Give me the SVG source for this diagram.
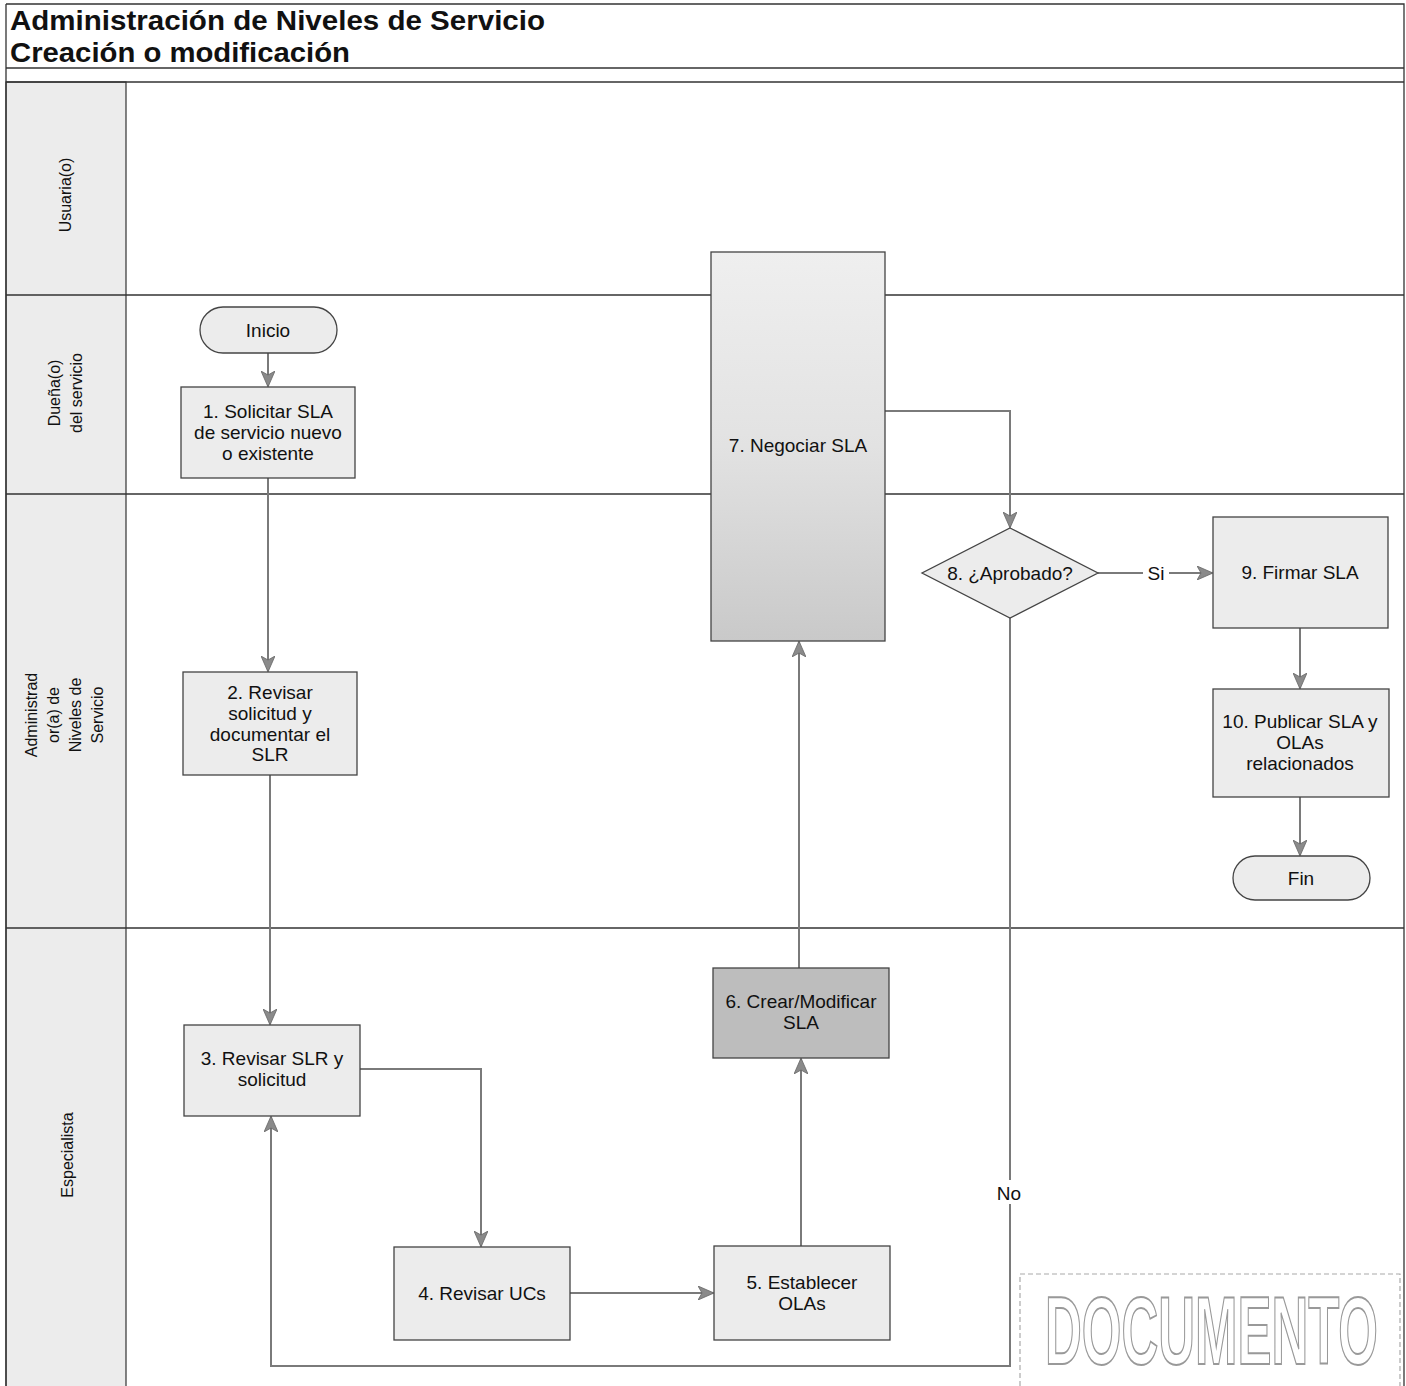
<svg xmlns="http://www.w3.org/2000/svg" width="1406" height="1386" viewBox="0 0 1406 1386">
<style>
.frame{fill:none;stroke:#333;stroke-width:1.3}
.lane{stroke:#333;stroke-width:1.3;fill:none}
.lbl{fill:#ececec;stroke:#333;stroke-width:1.2}
.node{fill:#ececec;stroke:#444;stroke-width:1.3}
.dark{fill:#bdbdbd;stroke:#444;stroke-width:1.3}
.t{font-family:"Liberation Sans",Arial,sans-serif;font-size:19px;fill:#111;text-anchor:middle}
.lt{font-family:"Liberation Sans",Arial,sans-serif;font-size:16px;fill:#111;text-anchor:middle}
.title{font-family:"Liberation Sans",Arial,sans-serif;font-size:28px;font-weight:bold;fill:#111}
.c{fill:none;stroke:#7a7a7a;stroke-width:2}
</style>
<defs>
<marker id="ah" markerUnits="userSpaceOnUse" markerWidth="16" markerHeight="14" refX="15" refY="7" orient="auto">
<path d="M0,0 L16,7 L0,14 L4,7 Z" fill="#8a8a8a" stroke="#666" stroke-width="0.8"/>
</marker>
<linearGradient id="g7" x1="0" y1="0" x2="0" y2="1">
<stop offset="0" stop-color="#efefef"/>
<stop offset="0.5" stop-color="#e2e2e2"/>
<stop offset="1" stop-color="#c9c9c9"/>
</linearGradient>
</defs>
<rect width="1406" height="1386" fill="#fff"/>
<g id="frame">
<rect class="lbl" x="6" y="82" width="120" height="1310"/>
<path class="frame" d="M6,4 H1404 V1392 M6,4 V1392"/>
<line class="lane" x1="6" y1="68" x2="1404" y2="68"/>
<line class="lane" x1="6" y1="82" x2="1404" y2="82"/>
<line class="lane" x1="6" y1="295" x2="1404" y2="295"/>
<line class="lane" x1="6" y1="494" x2="1404" y2="494"/>
<line class="lane" x1="6" y1="928" x2="1404" y2="928"/>
<text class="title" x="10" y="30" textLength="535" lengthAdjust="spacingAndGlyphs">Administración de Niveles de Servicio</text>
<text class="title" x="10" y="62" textLength="340" lengthAdjust="spacingAndGlyphs">Creación o modificación</text>
</g>
<g id="lane-labels">
<text class="lt" transform="translate(71,195) rotate(-90)">Usuaria(o)</text>
<text class="lt" transform="translate(60,393) rotate(-90)">Dueña(o)</text>
<text class="lt" transform="translate(82,393) rotate(-90)">del servicio</text>
<text class="lt" transform="translate(37,715) rotate(-90)">Administrad</text>
<text class="lt" transform="translate(59,715) rotate(-90)">or(a) de</text>
<text class="lt" transform="translate(81,715) rotate(-90)">Niveles de</text>
<text class="lt" transform="translate(103,715) rotate(-90)">Servicio</text>
<text class="lt" transform="translate(73,1155) rotate(-90)">Especialista</text>
</g>
<g id="connectors">
<path class="c" d="M268,353 V386" marker-end="url(#ah)"/>
<path class="c" d="M268,478 V671" marker-end="url(#ah)"/>
<path class="c" d="M270,775 V1024" marker-end="url(#ah)"/>
<path class="c" d="M360,1069 H481 V1246" marker-end="url(#ah)"/>
<path class="c" d="M570,1293 H713" marker-end="url(#ah)"/>
<path class="c" d="M801,1246 V1059" marker-end="url(#ah)"/>
<path class="c" d="M799,968 V642" marker-end="url(#ah)"/>
<path class="c" d="M885,411 H1010 V527" marker-end="url(#ah)"/>
<path class="c" d="M1098,573 H1143 M1169,573 H1212" marker-end="url(#ah)"/>
<path class="c" d="M1010,618 V1366 H271 V1117" marker-end="url(#ah)"/>
<path class="c" d="M1300,628 V688" marker-end="url(#ah)"/>
<path class="c" d="M1300,797 V855" marker-end="url(#ah)"/>
<text class="t" x="1156" y="580">Si</text>
<rect x="990" y="1180" width="40" height="24" fill="#fff"/>
<text class="t" x="1009" y="1200">No</text>
</g>
<g id="inicio">
<rect class="node" x="200" y="307" width="137" height="46" rx="23"/>
<text class="t" x="268" y="337">Inicio</text>
</g>
<g id="n1">
<rect class="node" x="181" y="387" width="174" height="91"/>
<text class="t" x="268" y="418">1. Solicitar SLA</text>
<text class="t" x="268" y="439">de servicio nuevo</text>
<text class="t" x="268" y="460">o existente</text>
</g>
<g id="n2">
<rect class="node" x="183" y="672" width="174" height="103"/>
<text class="t" x="270" y="699">2. Revisar</text>
<text class="t" x="270" y="720">solicitud y</text>
<text class="t" x="270" y="741">documentar el</text>
<text class="t" x="270" y="761">SLR</text>
</g>
<g id="n3">
<rect class="node" x="184" y="1025" width="176" height="91"/>
<text class="t" x="272" y="1065">3. Revisar SLR y</text>
<text class="t" x="272" y="1086">solicitud</text>
</g>
<g id="n4">
<rect class="node" x="394" y="1247" width="176" height="93"/>
<text class="t" x="482" y="1300">4. Revisar UCs</text>
</g>
<g id="n5">
<rect class="node" x="714" y="1246" width="176" height="94"/>
<text class="t" x="802" y="1289">5. Establecer</text>
<text class="t" x="802" y="1310">OLAs</text>
</g>
<g id="n6">
<rect class="dark" x="713" y="968" width="176" height="90"/>
<text class="t" x="801" y="1008">6. Crear/Modificar</text>
<text class="t" x="801" y="1029">SLA</text>
</g>
<g id="n7">
<rect x="711" y="252" width="174" height="389" fill="url(#g7)" stroke="#444" stroke-width="1.3"/>
<text class="t" x="798" y="452">7. Negociar SLA</text>
</g>
<g id="n8">
<polygon class="node" points="1010,528 1098,573 1010,618 922,573"/>
<text class="t" x="1010" y="580">8. ¿Aprobado?</text>
</g>
<g id="n9">
<rect class="node" x="1213" y="517" width="175" height="111"/>
<text class="t" x="1300" y="579">9. Firmar SLA</text>
</g>
<g id="n10">
<rect class="node" x="1213" y="689" width="176" height="108"/>
<text class="t" x="1300" y="728">10. Publicar SLA y</text>
<text class="t" x="1300" y="749">OLAs</text>
<text class="t" x="1300" y="770">relacionados</text>
</g>
<g id="fin">
<rect class="node" x="1233" y="856" width="137" height="44" rx="22"/>
<text class="t" x="1301" y="885">Fin</text>
</g>
<g id="stamp">
<rect x="1020" y="1274" width="380" height="120" fill="none" stroke="#aaa" stroke-width="1.2" stroke-dasharray="5 3"/>
<text transform="translate(1045,1364) scale(1,2.1)" x="0" y="0" textLength="333" lengthAdjust="spacingAndGlyphs" font-family="Liberation Sans,Arial,sans-serif" font-size="46" font-weight="bold" fill="none" stroke="#999" stroke-width="1.5" vector-effect="non-scaling-stroke">DOCUMENTO</text>
</g>
</svg>
